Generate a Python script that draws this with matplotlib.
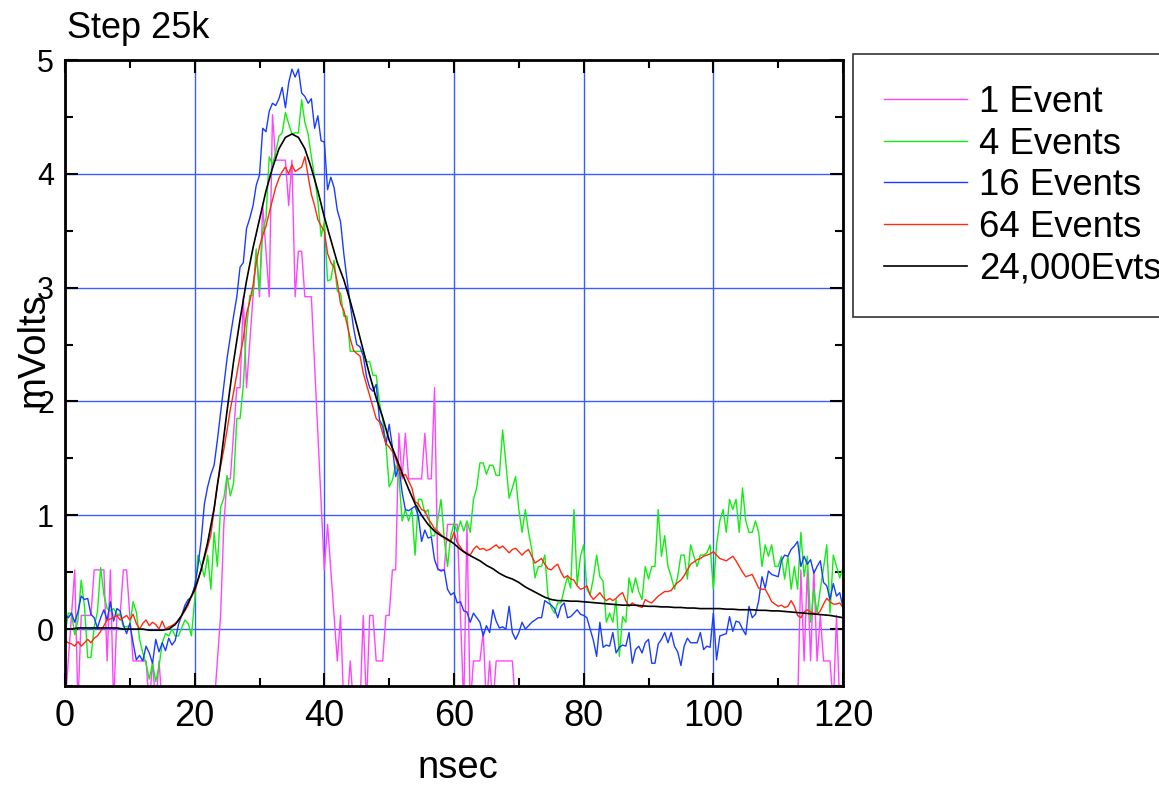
import numpy as np
import matplotlib
matplotlib.use("Agg")
import matplotlib.pyplot as plt
from matplotlib.ticker import MultipleLocator

plt.rcParams['font.family'] = ['Liberation Sans', 'DejaVu Sans']

# scope traces, sampled every 0.5 nsec
t_step = 0.5
one_event = [
    -0.68, -0.28, 0.12, 0.52, -0.68, 0.12, 0.12, 0.12, 0.12, 0.52,
    0.52, 0.52, 0.52, -0.28, 0.52, -0.68, 0.12, 0.12, 0.52, 0.52,
    0.12, -0.28, -0.28, -0.28, -0.28, -0.28, -0.68, -0.28, -0.68, -0.28,
    -0.68, -0.68, -0.68, -0.68, -0.68, -0.68, -0.68, -0.68, -0.68, -0.68,
    -0.68, -0.68, -0.68, -0.68, -0.68, -0.68, -0.68, -0.28, 0.12, 0.92,
    1.32, 1.32, 1.72, 2.12, 2.12, 2.92, 2.12, 2.52, 2.92, 3.32,
    2.92, 3.72, 3.32, 2.92, 4.52, 4.12, 4.12, 4.12, 4.12, 3.72,
    4.12, 2.92, 3.32, 3.32, 2.92, 2.92, 2.92, 2.32, 1.72, 1.12,
    0.52, 0.92, 0.52, 0.12, -0.28, 0.12, -0.68, -0.68, -0.28, -0.68,
    -0.68, -0.68, 0.12, -0.68, 0.12, 0.12, -0.28, -0.28, -0.28, 0.12,
    0.12, 0.52, 0.52, 1.72, 1.32, 1.72, 1.32, 1.32, 1.32, 1.32,
    1.32, 1.72, 1.32, 1.32, 2.12, 0.52, 0.52, 0.52, 0.92, 0.92,
    0.92, 0.92, 0.12, -0.68, 0.92, -0.68, -0.28, -0.28, -0.28, -0.02,
    -0.68, -0.28, -0.68, -0.28, -0.28, -0.28, -0.28, -0.28, -0.28, -0.68,
    -0.68, -0.68, -0.68, -0.68, -0.68, -0.68, -0.68, -0.68, -0.68, -0.68,
    -0.68, -0.68, -0.68, -0.68, -0.68, -0.68, -0.68, -0.68, -0.68, -0.68,
    -0.68, -0.68, -0.68, -0.68, -0.68, -0.68, -0.68, -0.68, -0.68, -0.68,
    -0.68, -0.68, -0.68, -0.68, -0.68, -0.68, -0.68, -0.68, -0.68, -0.68,
    -0.68, -0.68, -0.68, -0.68, -0.68, -0.68, -0.68, -0.68, -0.68, -0.68,
    -0.68, -0.68, -0.68, -0.68, -0.68, -0.68, -0.68, -0.68, -0.68, -0.68,
    -0.68, -0.68, -0.68, -0.68, -0.68, -0.68, -0.68, -0.68, -0.68, -0.68,
    -0.68, -0.68, -0.68, -0.68, -0.68, -0.68, -0.68, -0.68, -0.68, -0.68,
    -0.68, -0.68, -0.68, -0.68, -0.68, -0.68, -0.68, 0.52, -0.28, 0.52,
    -0.28, 0.52, -0.28, 0.12, -0.28, -0.28, -0.28, -0.68, 0.12, -0.68,
    -0.68,
]

four_events = [
    -0.05, 0.14, 0.14, -0.05, 0.08, 0.43, 0.20, -0.25, -0.25, 0.02,
    0.15, 0.54, 0.30, 0.18, 0.16, 0.18, 0.13, 0.13, 0.02, 0.02,
    0.03, 0.24, 0.15, -0.09, -0.21, -0.30, -0.44, -0.30, -0.46, -0.33,
    -0.12, -0.04, -0.06, 0.00, -0.06, -0.06, 0.01, 0.08, 0.05, -0.06,
    0.25, 0.65, 0.56, 0.46, 0.65, 0.35, 0.85, 0.55, 1.07, 1.15,
    1.35, 1.17, 1.28, 1.85, 1.85, 2.14, 2.64, 2.93, 2.93, 3.34,
    2.97, 3.50, 3.61, 4.15, 4.08, 4.19, 4.33, 4.36, 4.54, 4.44,
    4.35, 4.36, 4.36, 4.65, 4.45, 4.35, 4.15, 3.97, 3.76, 3.45,
    3.58, 3.06, 3.07, 3.24, 2.97, 2.95, 2.75, 2.75, 2.44, 2.44,
    2.44, 2.44, 2.44, 2.35, 2.35, 2.23, 2.23, 1.99, 1.84, 1.63,
    1.25, 1.31, 1.44, 1.34, 0.95, 1.05, 0.95, 1.05, 0.65, 1.14,
    1.14, 1.02, 1.05, 0.82, 0.82, 0.96, 1.14, 0.79, 0.55, 0.82,
    0.93, 0.85, 0.95, 0.86, 0.95, 0.85, 1.14, 1.24, 1.46, 1.46,
    1.36, 1.44, 1.44, 1.35, 1.35, 1.75, 1.46, 1.15, 1.24, 1.34,
    1.05, 0.85, 1.05, 0.85, 0.70, 0.45, 0.55, 0.55, 0.65, 0.29,
    0.19, 0.14, 0.23, 0.23, 0.35, 0.46, 0.36, 1.05, 0.39, 0.64,
    0.74, 0.35, 0.30, 0.45, 0.65, 0.46, 0.42, 0.06, 0.14, 0.06,
    0.26, -0.24, 0.11, 0.06, 0.45, 0.32, 0.45, 0.33, 0.26, 0.55,
    0.44, 0.55, 0.55, 1.05, 0.64, 0.82, 0.55, 0.46, 0.35, 0.46,
    0.65, 0.65, 0.44, 0.74, 0.64, 0.55, 0.65, 0.65, 0.67, 0.74,
    0.35, 0.74, 0.95, 1.05, 0.85, 1.14, 1.05, 1.14, 0.85, 1.24,
    0.95, 0.85, 0.85, 0.95, 0.85, 0.55, 0.74, 0.64, 0.74, 0.55,
    0.55, 0.64, 0.44, 0.64, 0.35, 0.55, 0.35, 0.85, 0.46, 0.64,
    0.06, 0.35, 0.14, 0.35, 0.54, 0.74, 0.14, 0.65, 0.55, 0.45,
    0.54,
]

sixteen_events = [
    0.13, 0.10, 0.14, 0.06, 0.15, 0.29, 0.26, 0.27, 0.13, 0.10,
    0.01, 0.10, 0.17, 0.08, 0.24, 0.07, 0.18, 0.16, 0.04, -0.04,
    0.05, -0.12, -0.27, -0.23, -0.28, -0.15, -0.21, -0.30, -0.09, -0.20,
    -0.12, -0.19, -0.08, -0.14, -0.10, 0.04, 0.12, 0.21, 0.26, 0.28,
    0.38, 0.55, 0.78, 1.10, 1.25, 1.36, 1.44, 1.66, 1.90, 2.14,
    2.38, 2.57, 2.75, 2.92, 3.18, 3.22, 3.52, 3.61, 3.72, 3.90,
    3.99, 4.40, 4.37, 4.55, 4.62, 4.60, 4.66, 4.76, 4.58, 4.80,
    4.92, 4.85, 4.92, 4.71, 4.68, 4.62, 4.66, 4.40, 4.51, 4.29,
    4.28, 3.86, 3.97, 3.88, 3.68, 3.58, 3.30, 3.07, 2.85, 2.65,
    2.50, 2.48, 2.40, 2.22, 2.12, 2.09, 2.15, 1.84, 1.78, 1.62,
    1.80, 1.60, 1.34, 1.43, 1.20, 1.05, 1.04, 1.06, 1.08, 0.99,
    0.77, 0.87, 0.80, 0.81, 0.61, 0.53, 0.51, 0.52, 0.35, 0.30,
    0.32, 0.23, 0.24, 0.16, 0.15, 0.06, 0.14, 0.10, 0.06, -0.06,
    0.03, -0.03, 0.17, 0.07, 0.01, 0.02, 0.00, 0.20, -0.03, -0.09,
    -0.03, 0.06, 0.00, 0.03, 0.06, 0.08, 0.10, 0.10, 0.25, 0.23,
    0.21, 0.18, 0.10, 0.20, 0.23, 0.10, 0.11, 0.14, 0.17, 0.13,
    0.12, 0.10, 0.00, -0.10, -0.24, 0.06, -0.16, -0.14, -0.15, -0.03,
    -0.21, -0.16, -0.14, -0.15, -0.03, -0.30, -0.18, -0.15, -0.21, -0.12,
    -0.09, -0.30, -0.30, -0.13, -0.09, -0.03, -0.12, -0.03, -0.15, -0.20,
    -0.32, -0.15, -0.08, -0.12, -0.12, -0.12, -0.03, -0.18, -0.15, -0.16,
    0.14, -0.27, -0.06, -0.05, -0.04, 0.11, -0.02, 0.07, 0.06, 0.00,
    -0.05, 0.20, 0.10, 0.13, 0.25, 0.46, 0.36, 0.51, 0.48, 0.47,
    0.46, 0.60, 0.65, 0.64, 0.70, 0.73, 0.77, 0.55, 0.64, 0.57,
    0.61, 0.49, 0.55, 0.60, 0.41, 0.38, 0.26, 0.40, 0.29, 0.32,
    0.19,
]

sixtyfour_events = [
    -0.10, -0.12, -0.13, -0.15, -0.11, -0.15, -0.12, -0.09, -0.12, -0.08,
    -0.06, -0.02, 0.03, 0.08, 0.09, 0.10, 0.12, 0.08, 0.10, 0.12,
    0.08, 0.13, 0.05, 0.00, 0.05, 0.08, 0.03, 0.06, 0.04, 0.00,
    0.07, 0.00, 0.02, 0.03, 0.05, 0.07, 0.12, 0.16, 0.21, 0.29,
    0.33, 0.42, 0.53, 0.62, 0.72, 0.83, 1.05, 1.27, 1.43, 1.58,
    1.75, 1.93, 2.08, 2.24, 2.40, 2.55, 2.77, 2.88, 3.02, 3.22,
    3.36, 3.46, 3.54, 3.66, 3.77, 3.88, 3.96, 4.02, 4.06, 4.00,
    4.08, 4.02, 4.04, 4.06, 4.15, 3.98, 3.82, 3.72, 3.60, 3.54,
    3.50, 3.30, 3.22, 3.18, 3.05, 2.86, 2.80, 2.68, 2.55, 2.45,
    2.42, 2.40, 2.25, 2.15, 2.05, 1.95, 1.85, 1.82, 1.72, 1.63,
    1.60, 1.56, 1.50, 1.40, 1.34, 1.36, 1.30, 1.24, 1.12, 1.10,
    1.05, 1.04, 0.97, 0.93, 0.88, 0.86, 0.83, 0.80, 0.78, 0.77,
    0.85, 0.76, 0.72, 0.68, 0.67, 0.65, 0.70, 0.73, 0.70, 0.71,
    0.69, 0.70, 0.72, 0.74, 0.71, 0.73, 0.70, 0.67, 0.70, 0.71,
    0.68, 0.65, 0.68, 0.70, 0.64, 0.58, 0.60, 0.62, 0.57, 0.53,
    0.52, 0.55, 0.57, 0.50, 0.45, 0.47, 0.44, 0.43, 0.38, 0.35,
    0.36, 0.38, 0.30, 0.26, 0.29, 0.32, 0.28, 0.25, 0.27, 0.25,
    0.27, 0.30, 0.32, 0.25, 0.20, 0.23, 0.21, 0.20, 0.19, 0.26,
    0.24, 0.23, 0.26, 0.29, 0.31, 0.33, 0.33, 0.34, 0.38, 0.41,
    0.43, 0.47, 0.52, 0.57, 0.59, 0.61, 0.62, 0.64, 0.65, 0.66,
    0.68, 0.65, 0.62, 0.61, 0.60, 0.62, 0.64, 0.60, 0.55, 0.50,
    0.46, 0.47, 0.48, 0.42, 0.36, 0.35, 0.35, 0.30, 0.24, 0.22,
    0.20, 0.21, 0.19, 0.20, 0.25, 0.20, 0.12, 0.10, 0.15, 0.17,
    0.15, 0.14, 0.13, 0.16, 0.22, 0.27, 0.24, 0.22, 0.22, 0.23,
    0.19,
]

# high statistics average, one value per nsec
avg_24000 = [
    0.00, 0.00, 0.01, 0.01, 0.01, 0.01, 0.01, 0.01, 0.01, 0.00,
    0.00, 0.00, 0.00, -0.01, -0.01, -0.01, 0.00, 0.04, 0.12, 0.23,
    0.35, 0.52, 0.76, 1.06, 1.46, 1.92, 2.35, 2.72, 3.06, 3.35,
    3.60, 3.85, 4.05, 4.22, 4.32, 4.35, 4.32, 4.22, 4.05, 3.85,
    3.62, 3.42, 3.22, 3.07, 2.88, 2.67, 2.45, 2.23, 2.03, 1.86,
    1.66, 1.52, 1.37, 1.23, 1.10, 1.00, 0.92, 0.86, 0.82, 0.79,
    0.75, 0.70, 0.66, 0.63, 0.60, 0.56, 0.53, 0.49, 0.46, 0.44,
    0.41, 0.37, 0.34, 0.31, 0.28, 0.26, 0.25, 0.25, 0.245, 0.245,
    0.24, 0.235, 0.23, 0.225, 0.22, 0.215, 0.21, 0.21, 0.21, 0.205,
    0.20, 0.20, 0.195, 0.195, 0.19, 0.19, 0.185, 0.185, 0.18, 0.18,
    0.18, 0.18, 0.175, 0.175, 0.17, 0.17, 0.17, 0.165, 0.165, 0.16,
    0.16, 0.155, 0.15, 0.145, 0.14, 0.135, 0.13, 0.125, 0.12, 0.11,
    0.10,
]

labels = ['1 Event', '4 Events', '16 Events', '64 Events', '24,000Evts']
colors = ['#ff44ff', '#11ee11', '#1a3cff', '#ff2a10', '#000000']

t_fine = np.arange(len(one_event)) * t_step
t_avg = np.arange(len(avg_24000)) * 1.0

fig = plt.figure(figsize=(11.59, 7.85), dpi=100)
ax = fig.add_axes([65/1159, 99/785, 778/1159, 626/785])

series = [one_event, four_events, sixteen_events, sixtyfour_events]
for vals, lab, col in zip(series, labels[:4], colors[:4]):
    ax.plot(t_fine[:len(vals)], vals, color=col, lw=1.0, label=lab)
ax.plot(t_avg, avg_24000, color=colors[4], lw=1.2, label=labels[4])

ax.set_xlim(0, 120)
ax.set_ylim(-0.5, 5)
ax.xaxis.set_major_locator(MultipleLocator(20))
ax.xaxis.set_minor_locator(MultipleLocator(10))
ax.yaxis.set_major_locator(MultipleLocator(1))
ax.yaxis.set_minor_locator(MultipleLocator(0.5))
ax.grid(True, which='major', color='#3a5cff', lw=1.0)
ax.set_axisbelow(True)
ax.tick_params(which='both', direction='in', top=True, right=True, width=1.5)
ax.tick_params(which='major', length=9.5)
ax.tick_params(which='minor', length=5.5)
ax.tick_params(axis='x', labelsize=26, pad=9)
ax.tick_params(axis='y', labelsize=22, pad=8)
for sp in ax.spines.values():
    sp.set_linewidth(2)

fig.text(67/1159, 1 - 28/785, 'Step 25k', fontsize=26, va='center', ha='left')
fig.text(458/1159, 1 - 768/785, 'nsec', fontsize=27.5, va='center', ha='center')
fig.text(33/1159, 1 - 350/785, 'mVolts', fontsize=27.5, rotation=90,
         va='center', ha='center')

leg = ax.legend(loc='upper left', bbox_to_anchor=(853/1159, 1 - 54/785),
                bbox_transform=fig.transFigure, fontsize=26.3, frameon=True,
                fancybox=False, edgecolor='black', handlelength=2.27,
                handletextpad=0.33, labelspacing=0.18, borderpad=0.85,
                borderaxespad=0)
leg.get_frame().set_linewidth(1.2)

fig.savefig('out.png', dpi=100)
